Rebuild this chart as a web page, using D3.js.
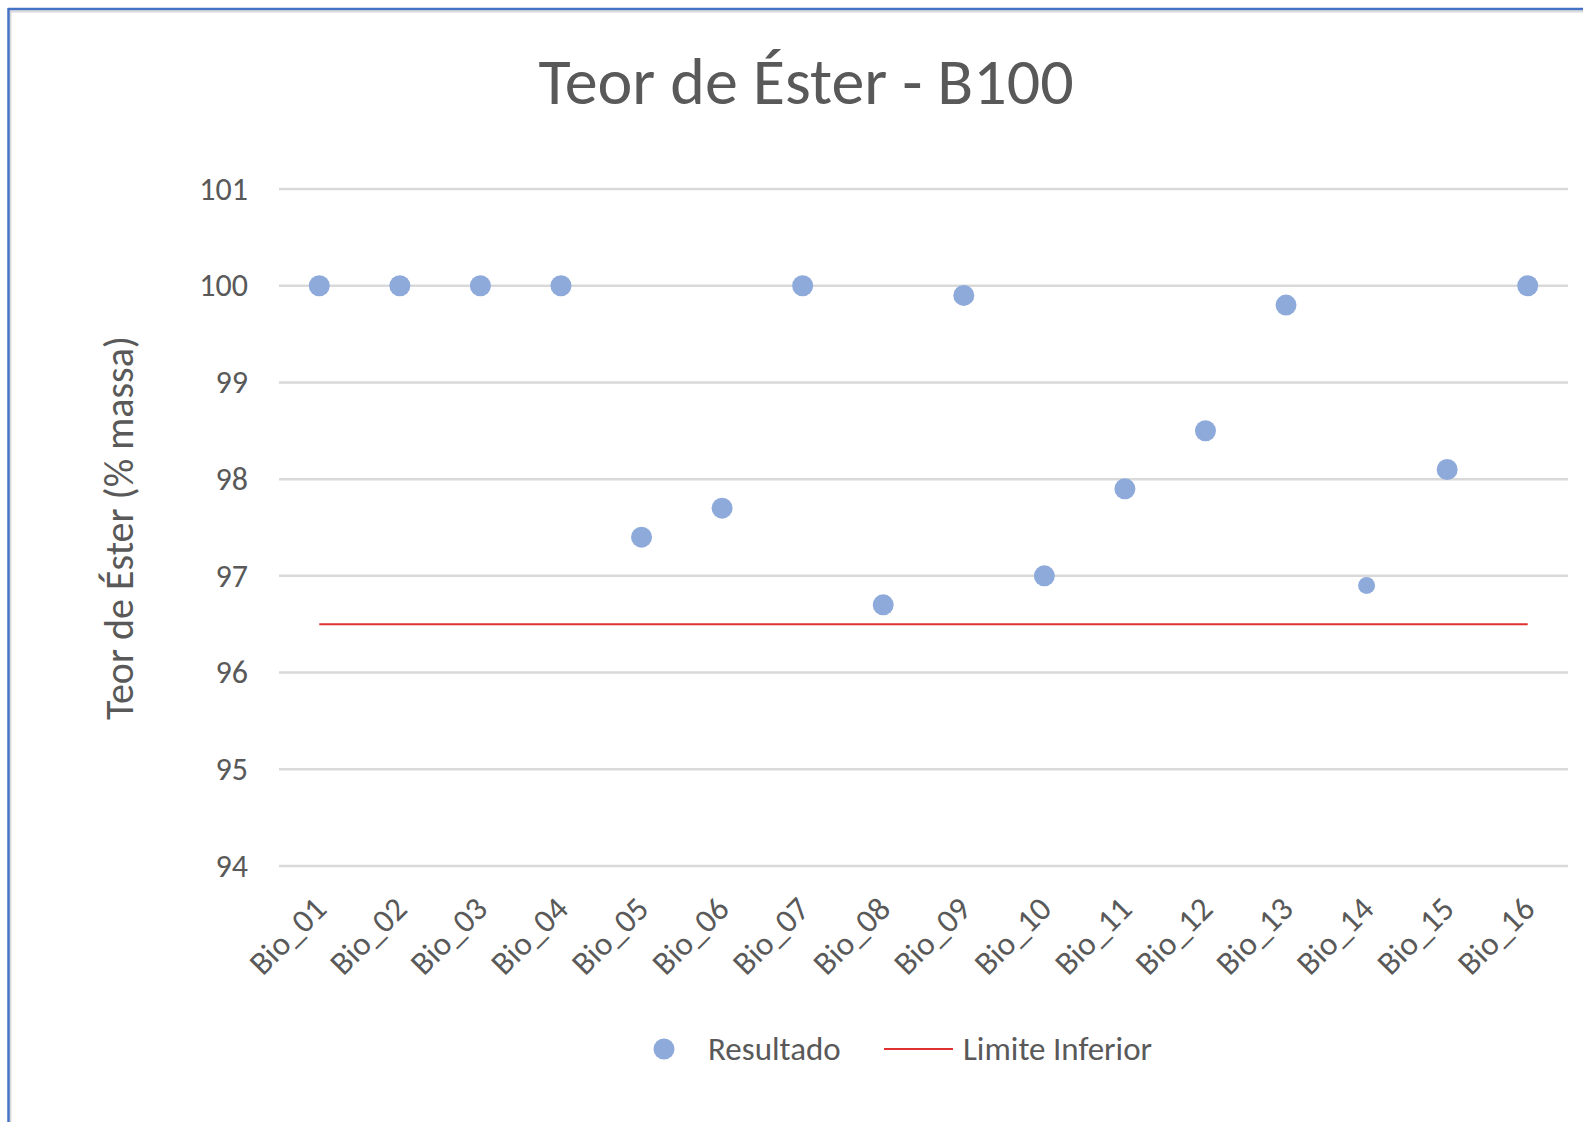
<!DOCTYPE html>
<html>
<head>
<meta charset="utf-8">
<script src="https://cdn.jsdelivr.net/npm/d3@7"></script>
<style>
  body { margin: 0; background: #fff; }
  svg { display: block; }
  text { font-family: Carlito, Calibri, Lato, sans-serif; fill: #595959; }
</style>
</head>
<body>
<svg width="1583" height="1122"></svg>
<script>
// data
var categories = ['Bio_01','Bio_02','Bio_03','Bio_04','Bio_05','Bio_06','Bio_07','Bio_08',
                  'Bio_09','Bio_10','Bio_11','Bio_12','Bio_13','Bio_14','Bio_15','Bio_16'];
var resultado = [100, 100, 100, 100, 97.4, 97.7, 100, 96.7, 99.9, 97.0, 97.9, 98.5, 99.8, 96.9, 98.1, 100];
var limiteInferior = 96.5;
var yTicks = [94, 95, 96, 97, 98, 99, 100, 101];

var svg = d3.select('svg');
var width = +svg.attr('width');
var height = +svg.attr('height');
var fontFam = 'Carlito, Calibri, Lato, sans-serif';

// frame (selection border of the screenshot)
svg.append('line').attr('x1', 10.5).attr('x2', 10.5).attr('y1', 10).attr('y2', height)
    .attr('stroke', '#d9d9d9').attr('stroke-width', 2);
svg.append('line').attr('x1', 10).attr('x2', width).attr('y1', 11.5).attr('y2', 11.5)
    .attr('stroke', '#d9d9d9').attr('stroke-width', 2);
svg.append('line').attr('x1', 8.5).attr('x2', 8.5).attr('y1', 8).attr('y2', height)
    .attr('stroke', '#4472c4').attr('stroke-width', 2.5);
svg.append('line').attr('x1', 8).attr('x2', width).attr('y1', 9).attr('y2', 9)
    .attr('stroke', '#4472c4').attr('stroke-width', 2.5);

var plotL = 279, plotR = 1568, plotT = 189, plotB = 866;

var x = d3.scaleBand().domain(categories).range([plotL, plotR]);
var y = d3.scaleLinear().domain([94, 101]).range([plotB, plotT]);

// gridlines
svg.append('g').selectAll('line').data(yTicks).enter().append('line')
    .attr('x1', plotL).attr('x2', plotR)
    .attr('y1', function(d){ return y(d); })
    .attr('y2', function(d){ return y(d); })
    .attr('stroke', '#d9d9d9').attr('stroke-width', 2.5);

// y axis labels
var yAxis = d3.axisLeft(y).tickValues(yTicks).tickFormat(d3.format('d')).tickSize(0).tickPadding(31);
var gy = svg.append('g').attr('transform', 'translate(' + plotL + ',0)').call(yAxis);
gy.select('.domain').remove();
gy.selectAll('text').style('font-size', '32px').attr('fill', '#595959')
    .style('font-family', fontFam);

// x axis labels, rotated
var xAxis = d3.axisBottom(x).tickSize(0).tickPadding(0);
var gx = svg.append('g').attr('transform', 'translate(0,' + plotB + ')').call(xAxis);
gx.select('.domain').remove();
gx.selectAll('text')
    .style('font-size', '33px').attr('fill', '#595959')
    .style('font-family', fontFam)
    .attr('text-anchor', 'end')
    .attr('dy', 0)
    .attr('transform', 'translate(9,45) rotate(-45)');

// limit line
var cx = function(d){ return x(d) + x.bandwidth() / 2; };
svg.append('line')
    .attr('x1', cx(categories[0])).attr('x2', cx(categories[categories.length - 1]))
    .attr('y1', y(limiteInferior)).attr('y2', y(limiteInferior))
    .attr('stroke', '#e03030').attr('stroke-width', 2);

// points
svg.append('g').selectAll('circle').data(resultado).enter().append('circle')
    .attr('cx', function(d, i){ return cx(categories[i]); })
    .attr('cy', function(d){ return y(d); })
    .attr('r', function(d, i){ return categories[i] == 'Bio_14' ? 8.5 : 10.5; })
    .attr('fill', '#8eaadb');

// title
svg.append('text').attr('x', 806).attr('y', 104).attr('text-anchor', 'middle')
    .style('font-size', '66px').text('Teor de Éster - B100');

// y title
svg.append('text')
    .attr('transform', 'translate(133,528) rotate(-90)')
    .attr('text-anchor', 'middle')
    .style('font-size', '40px').text('Teor de Éster (% massa)');

// legend
var lg = svg.append('g');
lg.append('circle').attr('cx', 664).attr('cy', 1049).attr('r', 10.5).attr('fill', '#8eaadb');
lg.append('text').attr('x', 708).attr('y', 1060).style('font-size', '33px').text('Resultado');
lg.append('line').attr('x1', 884).attr('x2', 953).attr('y1', 1049).attr('y2', 1049)
    .attr('stroke', '#e03030').attr('stroke-width', 2);
lg.append('text').attr('x', 963).attr('y', 1060).style('font-size', '33px').text('Limite Inferior');
</script>
</body>
</html>
